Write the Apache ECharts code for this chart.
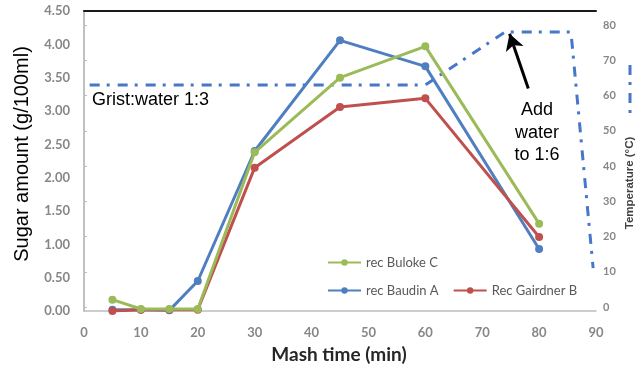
<!DOCTYPE html>
<html>
<head>
<meta charset="utf-8">
<script src="https://cdn.jsdelivr.net/npm/echarts@6/dist/echarts.min.js"></script>
<style>
  html, body { margin: 0; padding: 0; background: #fff; }
  #chart { width: 636px; height: 371px; }
</style>
</head>
<body>
<div id="chart"></div>
<script>
// Sugar extracted during mashing, sampled at these times (min)
const mashTime = [5, 10, 15, 20, 30, 45, 60, 80];
const recBulokeC = [0.17, 0.03, 0.03, 0.03, 2.38, 3.50, 3.97, 1.31];
const recBaudinA = [0.02, 0.02, 0.01, 0.45, 2.40, 4.06, 3.67, 0.93];
const recGairdnerB = [0.00, 0.02, 0.02, 0.02, 2.15, 3.06, 3.19, 1.11];

// Mash temperature profile: [time (min), temperature (°C)]
const tempTime = [1, 60, 74, 85.6, 89.5];
const tempValue = [63, 63, 78, 78, 11];

const sugarTicks = { min: 0, max: 4.5, step: 0.5 };
const tempTicks = { min: 0, max: 80, step: 10 };
const timeTicks = { min: 0, max: 90, step: 10 };

const pair = (xs, ys) => xs.map((x, i) => [x, ys[i]]);

const tickFont = { fontFamily: 'Lato', fontWeight: 'bold', color: '#878787' };
const axisGrey = '#bdbdbd';
const tempBlue = '#4677c8';
const dashDot = [10, 7, 3, 8];

const chart = echarts.init(document.getElementById('chart'), null, { renderer: 'canvas' });

function sugarSeries(name, values, color, z) {
  return {
    name: name,
    type: 'line',
    xAxisIndex: 0,
    yAxisIndex: 0,
    data: pair(mashTime, values),
    symbol: 'circle',
    symbolSize: 8,
    z: z,
    lineStyle: { width: 3, color: color },
    itemStyle: { color: color },
    emphasis: { disabled: true }
  };
}

const legendText = { fontFamily: 'Lato', fontSize: 13, color: '#595959' };

const option = {
  animation: false,
  grid: [
    { left: 84, right: 40, top: 11, bottom: 60 },
    { left: 84, right: 40, top: 25, bottom: 64 }
  ],
  xAxis: [
    {
      gridIndex: 0, type: 'value', position: 'bottom',
      min: timeTicks.min, max: timeTicks.max, interval: timeTicks.step,
      axisLine: { show: true, lineStyle: { color: axisGrey, width: 1.5 } },
      axisTick: { show: false },
      splitLine: { show: false },
      axisLabel: Object.assign({ fontSize: 13, margin: 15 }, tickFont)
    },
    {
      gridIndex: 1, type: 'value', show: false,
      min: timeTicks.min, max: timeTicks.max
    },
    {
      // dark frame line along the top of the plot
      gridIndex: 0, type: 'value', position: 'top',
      min: timeTicks.min, max: timeTicks.max,
      axisLine: { show: true, onZero: false, lineStyle: { color: '#1a1a1a', width: 2 } },
      axisTick: { show: false },
      axisLabel: { show: false },
      splitLine: { show: false }
    }
  ],
  yAxis: [
    {
      gridIndex: 0, type: 'value', position: 'left',
      min: sugarTicks.min, max: sugarTicks.max, interval: sugarTicks.step,
      axisLine: { show: true, lineStyle: { color: axisGrey, width: 1.5 } },
      axisTick: { show: false },
      splitLine: { show: false },
      axisLabel: Object.assign({ fontSize: 13, margin: 14, formatter: v => v.toFixed(2) }, tickFont)
    },
    {
      gridIndex: 1, type: 'value', position: 'right',
      min: tempTicks.min, max: tempTicks.max, interval: tempTicks.step,
      axisLine: { show: false },
      axisTick: { show: true, inside: false, length: 3, lineStyle: { color: axisGrey } },
      splitLine: { show: false },
      axisLabel: Object.assign({ fontSize: 11, margin: 7 }, tickFont)
    },
    {
      // right-hand frame line spanning the full plot height
      gridIndex: 0, type: 'value', position: 'right',
      min: sugarTicks.min, max: sugarTicks.max,
      axisLine: { show: true, lineStyle: { color: axisGrey, width: 1.5 } },
      axisTick: { show: false },
      axisLabel: { show: false },
      splitLine: { show: false }
    }
  ],
  legend: [
    {
      data: ['rec Buloke C'],
      left: 322, top: 251,
      itemWidth: 33, itemHeight: 8,
      textStyle: legendText
    },
    {
      data: ['rec Baudin A', 'Rec Gairdner B'],
      left: 322, top: 279,
      itemWidth: 33, itemHeight: 8, itemGap: 14,
      textStyle: legendText
    }
  ],
  series: [
    sugarSeries('rec Baudin A', recBaudinA, '#4f7fc0', 3),
    sugarSeries('Rec Gairdner B', recGairdnerB, '#c0504d', 4),
    sugarSeries('rec Buloke C', recBulokeC, '#9bbb59', 5),
    {
      name: 'Temperature',
      type: 'line',
      xAxisIndex: 1,
      yAxisIndex: 1,
      data: pair(tempTime, tempValue),
      symbol: 'none',
      z: 2,
      lineStyle: { width: 3, color: tempBlue, type: dashDot },
      emphasis: { disabled: true },
      markLine: {
        silent: true,
        symbol: ['none', 'arrow'],
        symbolSize: [14, 16],
        label: { show: false },
        lineStyle: { color: '#000', width: 3, type: 'solid' },
        data: [[{ coord: [78.1, 62] }, { coord: [74.8, 77.5] }]]
      }
    }
  ],
  graphic: [
    {
      type: 'text', left: 92, top: 91,
      style: { text: 'Grist:water 1:3', fontFamily: 'Liberation Sans', fontSize: 18, fill: '#000' }
    },
    {
      type: 'text', x: 537, y: 99,
      style: {
        text: 'Add\nwater\nto 1:6', fontFamily: 'Liberation Sans', fontSize: 18,
        lineHeight: 22.5, fill: '#000', align: 'center', verticalAlign: 'top'
      }
    },
    {
      type: 'text', x: 22, y: 154, rotation: Math.PI / 2,
      style: {
        text: 'Sugar amount (g/100ml)', fontFamily: 'Liberation Sans', fontSize: 20,
        fill: '#000', align: 'center', verticalAlign: 'middle'
      }
    },
    {
      type: 'text', x: 339, y: 355,
      style: {
        text: 'Mash time (min)', fontFamily: 'Lato', fontWeight: 'bold', fontSize: 19,
        fill: '#262626', align: 'center', verticalAlign: 'middle'
      }
    },
    {
      type: 'text', x: 630, y: 183, rotation: Math.PI / 2,
      style: {
        text: 'Temperature (°C)', fontFamily: 'Liberation Sans', fontWeight: 'bold', fontSize: 11.5,
        fill: '#404040', align: 'center', verticalAlign: 'middle'
      }
    },
    {
      // temperature line key beside the right-hand title
      type: 'line',
      shape: { x1: 630, y1: 65, x2: 630, y2: 117 },
      style: { stroke: tempBlue, lineWidth: 3, lineDash: dashDot }
    }
  ]
};

chart.setOption(option);
</script>
</body>
</html>
